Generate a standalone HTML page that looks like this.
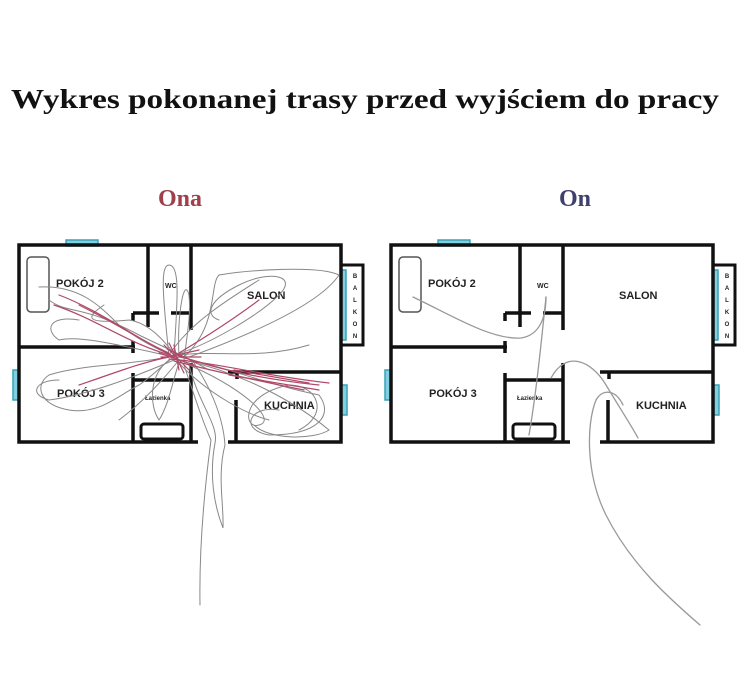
<!DOCTYPE html>
<html><head><meta charset="utf-8"><style>
html,body{margin:0;padding:0;background:#fff;}
svg{display:block}
</style></head><body>
<svg width="750" height="677" viewBox="0 0 750 677" xmlns="http://www.w3.org/2000/svg">
<defs>
<g id="plan">
  <rect x="322" y="20" width="22" height="80" fill="#fff" stroke="#111" stroke-width="3"/>
  <g font-family="Liberation Sans, sans-serif" font-size="6" fill="#222" text-anchor="middle" font-weight="bold">
    <text x="336" y="33">B</text><text x="336" y="45">A</text><text x="336" y="57">L</text><text x="336" y="69">K</text><text x="336" y="81">O</text><text x="336" y="93">N</text>
  </g>
  <rect x="47" y="-5" width="32" height="6" fill="#7fd0e0" stroke="#3aa0b8" stroke-width="1.5"/>
  <rect x="-6" y="125" width="6" height="30" fill="#7fd0e0" stroke="#3aa0b8" stroke-width="1.5"/>
  <rect x="322" y="140" width="6" height="30" fill="#7fd0e0" stroke="#3aa0b8" stroke-width="1.5"/>
  <rect x="322" y="25" width="5" height="70" fill="#7fd0e0" stroke="#3aa0b8" stroke-width="1.5"/>
  <g stroke="#111" stroke-width="3.5" fill="none">
    <polyline points="179,197 0,197 0,0 322,0 322,197 209,197"/>
    <line x1="129" y1="0" x2="129" y2="82"/>
    <line x1="172" y1="0" x2="172" y2="85"/>
    <line x1="172" y1="118" x2="172" y2="197"/>
    <line x1="0" y1="102" x2="116" y2="102"/>
    <line x1="114" y1="96" x2="114" y2="108"/>
    <line x1="114" y1="68" x2="140" y2="68"/>
    <line x1="152" y1="68" x2="172" y2="68"/>
    <line x1="114" y1="68" x2="114" y2="76"/>
    <line x1="114" y1="135" x2="172" y2="135"/>
    <line x1="114" y1="128" x2="114" y2="197"/>
    <line x1="209" y1="127" x2="322" y2="127"/>
    <line x1="218" y1="127" x2="218" y2="134"/>
    <line x1="217" y1="155" x2="217" y2="197"/>
    <rect x="8" y="12" width="22" height="55" rx="4" stroke="#555" stroke-width="1.5"/>
    <rect x="122" y="179" width="42" height="15" rx="3" stroke-width="3"/>
  </g>
  <g font-family="Liberation Sans, sans-serif" fill="#222" font-weight="bold">
    <text x="37" y="42" font-size="11">POKÓJ 2</text>
    <text x="146" y="43" font-size="7">WC</text>
    <text x="228" y="54" font-size="11">SALON</text>
    <text x="38" y="152" font-size="11">POKÓJ 3</text>
    <text x="126" y="155" font-size="6">Łazienka</text>
    <text x="245" y="164" font-size="11">KUCHNIA</text>
  </g>
</g>
</defs>

<text x="365" y="108" text-anchor="middle" font-family="Liberation Serif, serif" font-weight="bold" font-size="27" fill="#111" textLength="708" lengthAdjust="spacingAndGlyphs">Wykres pokonanej trasy przed wyjściem do pracy</text>
<text x="180" y="206" text-anchor="middle" font-family="Liberation Serif, serif" font-weight="bold" font-size="24" fill="#a0404c">Ona</text>
<text x="575" y="206" text-anchor="middle" font-family="Liberation Serif, serif" font-weight="bold" font-size="24" fill="#40406e">On</text>

<g transform="translate(19,245)">
  <use href="#plan"/>
  <g fill="none" stroke-width="1" stroke-linecap="round">
    <g stroke="#888">
      <path d="M20,42 C60,40 80,60 100,80 C120,95 140,105 152,110"/>
      <path d="M30,55 C50,70 60,58 120,90 C140,100 160,108 190,125"/>
      <path d="M85,60 C70,70 60,80 110,75 C130,78 145,95 160,115"/>
      <path d="M150,112 C145,60 140,20 150,20 C162,20 158,60 155,110"/>
      <path d="M160,112 C158,70 165,30 170,50 C172,70 168,90 165,115"/>
      <path d="M155,110 C190,100 240,70 260,50 C280,30 250,25 220,40 C190,55 185,70 200,75"/>
      <path d="M165,112 C200,80 190,40 200,30 C230,25 300,20 320,30 C300,60 230,90 170,112"/>
      <path d="M150,112 C110,120 60,120 30,130 C15,140 20,160 50,165 C80,170 100,150 120,140 C135,130 145,118 155,112"/>
      <path d="M155,115 C120,130 70,150 30,155 C10,150 15,135 40,135"/>
      <path d="M160,112 C200,120 250,140 300,150 C315,170 300,190 250,190 C220,185 230,160 260,165"/>
      <path d="M165,118 C220,140 260,175 240,180 C225,185 220,150 270,140 C300,140 310,170 280,185"/>
      <path d="M150,115 C130,130 130,160 140,175 C150,160 155,130 160,118"/>
      <path d="M165,120 C175,150 185,180 192,195 C186,240 180,300 181,360"/>
      <path d="M170,120 C180,160 200,180 196,198 C190,230 195,260 204,283 C205,260 198,230 206,200 C204,170 190,140 175,118"/>
      <path d="M160,118 C190,150 230,170 250,175"/>
      <path d="M160,110 C200,105 240,115 290,100"/>
      <path d="M155,112 C100,100 60,90 40,95 C25,85 30,70 60,75"/>
      <path d="M160,115 C140,140 120,160 100,175"/>
      <path d="M165,115 C230,130 280,160 310,185 C295,195 250,195 235,180"/>
      <path d="M150,110 C170,80 200,60 240,35"/>
    </g>
    <g stroke="#b04868" stroke-width="1.2">
      <path d="M40,50 C80,65 120,95 152,110"/>
      <path d="M35,60 C80,75 110,100 158,112"/>
      <path d="M158,110 C200,125 250,135 300,140"/>
      <path d="M155,116 C210,130 260,140 285,145"/>
      <path d="M150,114 C200,118 240,130 310,138"/>
      <path d="M140,108 L175,120 M145,100 L170,125 M150,98 L165,128 M135,115 L180,105"/>
      <path d="M150,112 C120,118 90,130 60,140"/>
      <path d="M160,108 C190,90 220,70 240,55"/>
      <path d="M142,112 L182,112 M148,104 L178,118 M155,100 L160,125 M210,130 L300,145 M215,125 L290,138"/>
      <path d="M60,60 C100,80 130,100 150,108"/>
    </g>
  </g>
</g>

<g transform="translate(391,245)">
  <use href="#plan"/>
  <g fill="none" stroke="#999" stroke-width="1.3" stroke-linecap="round">
    <path d="M22,52 C60,70 100,95 130,93 C150,90 155,70 155,52"/>
    <path d="M155,52 C150,100 145,150 138,190"/>
    <path d="M160,133 C175,105 200,115 215,140 C230,165 240,180 247,193"/>
    <path d="M205,155 C212,143 225,145 232,160"/>
    <path d="M205,155 C195,180 195,230 215,270 C240,320 280,355 309,380"/>
  </g>
</g>
</svg>
</body></html>
